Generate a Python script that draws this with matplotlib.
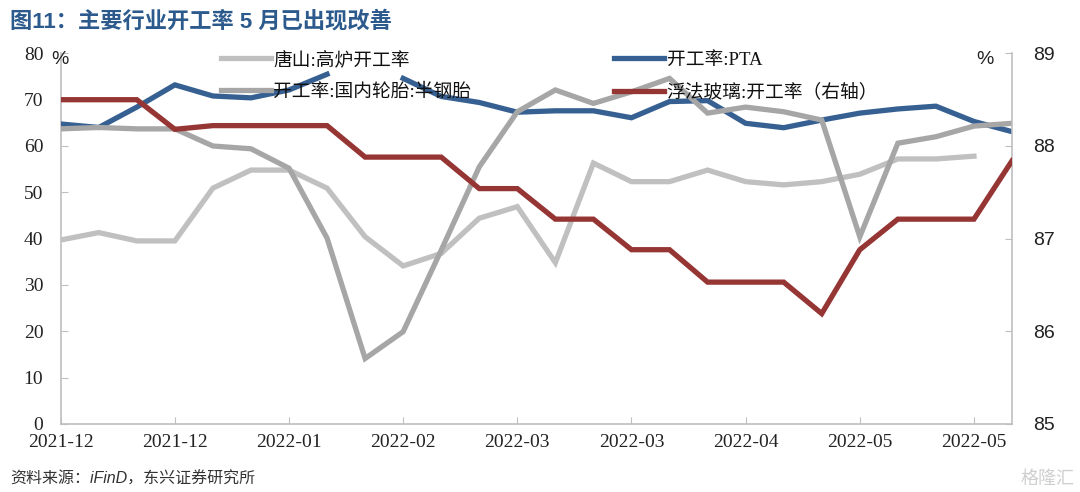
import matplotlib
matplotlib.use('Agg')
import matplotlib.pyplot as plt
import numpy as np

nan = np.nan
x_labels = ['2021-12', '2021-12', '2022-01', '2022-02', '2022-03',
            '2022-03', '2022-04', '2022-05', '2022-05']
tangshan = [39.7, 41.3, 39.5, 39.5, 50.9, 54.8, 54.8, 50.9, 40.4, 34.1, 36.8, 44.4, 46.9,
            34.8, 56.3, 52.3, 52.3, 54.8, 52.3, 51.6, 52.3, 53.9, 57.2, 57.2, 57.8, nan]
pta = [64.75, 64.0, 68.4, 73.2, 70.8, 70.4, 72.1, 75.5, nan, 74.6, 70.7, 69.4, 67.3,
       67.6, 67.6, 66.1, 69.6, 69.8, 64.9, 63.95, 65.6, 67.1, 68.0, 68.6, 65.3, 63.1]
tire = [63.7, 64.0, 63.7, 63.7, 60.0, 59.4, 55.2, 40.1, 14.1, 19.9, 37.5, 55.5, 67.4,
        72.1, 69.2, 71.7, 74.6, 67.1, 68.4, 67.4, 65.6, 40.4, 60.6, 62.0, 64.3, 64.9]
glass = [88.5, 88.5, 88.5, 88.18, 88.22, 88.22, 88.22, 88.22, 87.88, 87.88, 87.88, 87.54, 87.54,
         87.21, 87.21, 86.88, 86.88, 86.53, 86.53, 86.53, 86.19, 86.88, 87.21, 87.21, 87.21, 87.84]
names = ['唐山:高炉开工率', '开工率:PTA', '开工率:国内轮胎:半钢胎', '浮法玻璃:开工率（右轴）']

c_light = '#C0C0C0'
c_blue = '#376092'
c_dark = '#A6A6A6'
c_red = '#963634'

serif_cjk = ['Liberation Serif', 'Noto Sans CJK SC']
sans_cjk = ['Liberation Sans', 'Noto Sans CJK SC']

fig = plt.figure(figsize=(10.8, 4.92), dpi=100)
W, H = 1080, 492
x0, x1, ytop, ybot = 60.7, 1012, 53.4, 423.8
ax = fig.add_axes([x0 / W, 1 - ybot / H, (x1 - x0) / W, (ybot - ytop) / H])
ax2 = ax.twinx()

idx = np.arange(len(pta))
lw = 3.8
l1, = ax.plot(idx, tangshan, color=c_light, lw=lw, solid_joinstyle='miter', zorder=2)
l2, = ax.plot(idx, pta, color=c_blue, lw=lw, solid_joinstyle='miter', zorder=3)
l3, = ax.plot(idx, tire, color=c_dark, lw=lw, solid_joinstyle='miter', zorder=4)
l4, = ax2.plot(idx, glass, color=c_red, lw=lw, solid_joinstyle='miter', zorder=5)

ax.set_xlim(0, len(pta) - 1)
ax.set_ylim(0, 80)
ax2.set_ylim(85, 89)
ax.set_yticks(np.arange(0, 81, 10))
ax2.set_yticks(np.arange(85, 90, 1))
ax.set_xticks(np.arange(0, len(pta), 3))
ax.set_xticklabels(x_labels)

for a in (ax, ax2):
    for s in a.spines.values():
        s.set_color('#BFBFBF')
        s.set_linewidth(1.2)
    a.spines['top'].set_visible(False)
ax.spines['right'].set_visible(False)
ax2.spines['left'].set_visible(False)
ax2.spines['bottom'].set_visible(False)

ax.tick_params(axis='y', direction='in', length=5, color='#BFBFBF', pad=12.5,
               labelsize=14, labelcolor='#222222')
ax.tick_params(axis='x', direction='in', length=5, color='#BFBFBF', pad=7,
               labelsize=14, labelcolor='#222222')
for t in ax.get_xticklabels() + ax.get_yticklabels():
    t.set_fontfamily('Liberation Serif')
ax2.tick_params(axis='y', direction='in', length=5, color='#BFBFBF', pad=15,
                labelsize=14, labelcolor='#222222')
for t in ax2.get_yticklabels():
    t.set_fontfamily('Liberation Sans')

ax.patch.set_visible(False)
ax2.patch.set_visible(False)

handles = [l1, l3, l2, l4]
labels = [names[0], names[2], names[1], names[3]]
leg = fig.legend(handles, labels, ncol=2, frameon=False, loc='upper left',
                 bbox_to_anchor=(221 / W, 1 - 51 / H), handlelength=2.65,
                 handletextpad=0.15, columnspacing=7.6, labelspacing=0.78,
                 prop={'family': serif_cjk, 'size': 13.5}, borderaxespad=0,
                 borderpad=0)
for t in leg.get_texts():
    t.set_color('#111111')

fig.text(10 / W, 1 - 22 / H, '图11：主要行业开工率 5 月已出现改善', family=sans_cjk,
         fontsize=16, fontweight='bold', color='#2C5A8C', va='center', ha='left')
fig.text(51 / W, 1 - 60 / H, '%', family=sans_cjk, fontsize=14, color='#222222',
         va='center', ha='left')
fig.text(985 / W, 1 - 59 / H, '%', family=sans_cjk, fontsize=14, color='#222222',
         va='center', ha='center')
fig.text(10 / W, 1 - 479 / H, '资料来源：iFinD，东兴证券研究所', family=sans_cjk,
         fontsize=11.5, color='#333333', va='center', ha='left', style='italic')
fig.text(1075 / W, 1 - 479 / H, '格隆汇', family=sans_cjk, fontsize=13,
         color='#CFCFCF', va='center', ha='right')

fig.savefig('out.png', dpi=100)
